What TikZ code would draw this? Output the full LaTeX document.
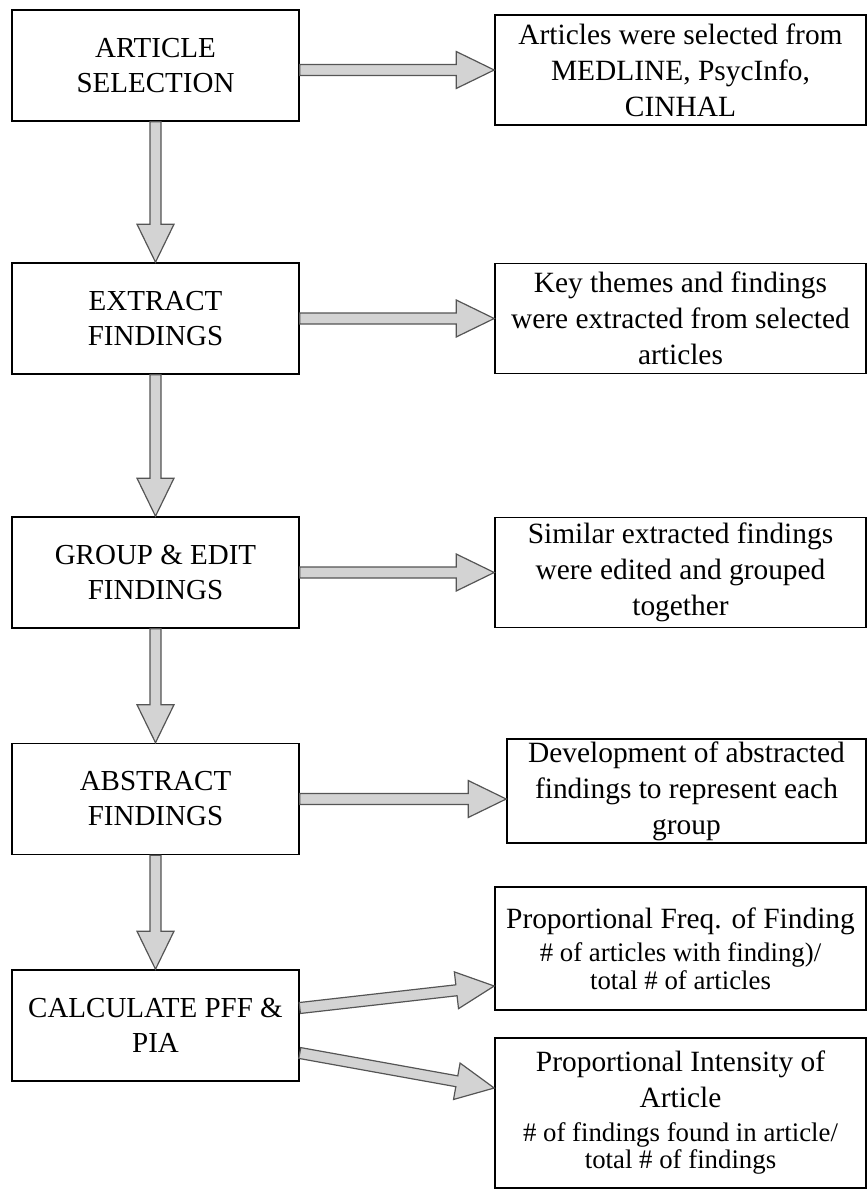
\documentclass[tikz,border=0pt]{standalone}
\usepackage{fontspec}
\setmainfont{Liberation Serif}
\usetikzlibrary{positioning,calc}

\definecolor{arrowfill}{HTML}{D3D3D3}
\definecolor{arrowline}{HTML}{555555}
\newcommand{\smalltxt}{\fontsize{13.4}{14}\selectfont}

% fat arrow from #1 to #2
\newcommand{\fatarrow}[2]{%
  \coordinate (base) at ($(#2)!19pt!(#1)$);
  \filldraw[fatarrow] ($(#1)!2.75pt!90:(#2)$) -- ($(base)!2.75pt!90:(#2)$)
    -- ($(base)!9.25pt!90:(#2)$) -- (#2) -- ($(base)!9.25pt!-90:(#2)$)
    -- ($(base)!2.75pt!-90:(#2)$) -- ($(#1)!2.75pt!-90:(#2)$) -- cycle;}

\begin{document}
\begin{tikzpicture}[x=0.5pt, y=-0.5pt,
    stepbox/.style = {draw, line width=0.8pt, align=center, inner sep=0pt,
      minimum width=143.5pt, minimum height=55.5pt,
      font=\fontsize{14.5}{17.5}\selectfont},
    note/.style = {draw, line width=0.8pt, align=center, inner sep=0pt,
      minimum width=185.5pt, minimum height=55pt,
      font=\fontsize{14.7}{18}\selectfont},
    fatarrow/.style = {fill=arrowfill, draw=arrowline, line width=0.6pt, line join=miter}]
  \useasboundingbox (0,0) rectangle (867,1189);

  % steps
  \node[stepbox] (sel) at (155.5,65.5) {ARTICLE\\SELECTION};
  \node[stepbox] (ext) at (155.5,318.5) {EXTRACT\\FINDINGS};
  \node[stepbox] (grp) at (155.5,572.5) {GROUP \& EDIT\\FINDINGS};
  \node[stepbox] (abs) at (155.5,799) {ABSTRACT\\FINDINGS};
  \node[stepbox] (clc) at (155.5,1025.5) {CALCULATE PFF \&\\PIA};

  % notes
  \node[note] (selnote) at (680.5,70) {Articles were selected from\\MEDLINE, PsycInfo,\\CINHAL};
  \node[note] (extnote) at (680.5,318.5) {Key themes and findings\\were extracted from selected\\articles};
  \node[note] (grpnote) at (680.5,572.5) {Similar extracted findings\\were edited and grouped\\together};
  \node[note, minimum width=179.5pt, minimum height=52pt] (absnote) at (686.5,791)
    {Development of abstracted\\findings to represent each\\group};
  \node[note, minimum height=61.5pt] (pffnote) at (680.5,948.5)
    {Proportional Freq. of Finding\\[-1.5pt]{\smalltxt\# of articles with finding)/}\\[-4pt]{\smalltxt total \# of articles}};
  \node[note, minimum height=75pt] (pianote) at (680.5,1113)
    {Proportional Intensity of\\Article\\[-1pt]{\smalltxt\# of findings found in article/}\\[-4.5pt]{\smalltxt total \# of findings}};

  % arrow ends
  \coordinate (selout) at (sel.east |- selnote.west);
  \coordinate (absin) at (abs.east -| absnote.west);
  \coordinate (pffout) at ($(clc.east)+(0,-17.5)$);
  \coordinate (pffin) at ($(pffnote.west)+(0,37.5)$);
  \coordinate (piaout) at ($(clc.east)+(0,27.5)$);
  \coordinate (piain) at ($(pianote.west)+(0,-25)$);

  % arrows
  \fatarrow{sel.south}{ext.north}
  \fatarrow{ext.south}{grp.north}
  \fatarrow{grp.south}{abs.north}
  \fatarrow{abs.south}{clc.north}
  \fatarrow{selout}{selnote.west}
  \fatarrow{ext.east}{extnote.west}
  \fatarrow{grp.east}{grpnote.west}
  \fatarrow{abs.east}{absin}
  \fatarrow{pffout}{pffin}
  \fatarrow{piaout}{piain}
\end{tikzpicture}
\end{document}
